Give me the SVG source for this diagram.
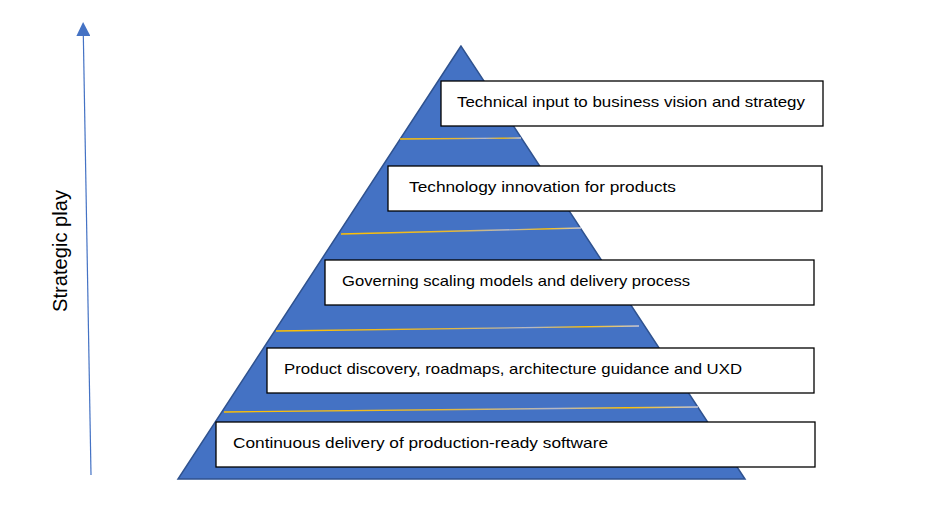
<svg xmlns="http://www.w3.org/2000/svg" width="927" height="526" viewBox="0 0 927 526">
<defs>
<style>
.box{fill:#fff;stroke:#000;stroke-width:1.3}
.lbl{font-family:"Liberation Sans",Arial,sans-serif;font-size:15px;fill:#000}
.sep{stroke:url(#gold);stroke-width:1.3;fill:none}
</style>
<linearGradient id="gold" x1="0" y1="0" x2="1" y2="0">
<stop offset="0" stop-color="#FFC000"/>
<stop offset="0.45" stop-color="#E8B830"/>
<stop offset="0.7" stop-color="#B4B8C8"/>
<stop offset="0.85" stop-color="#FFC000"/>
<stop offset="1" stop-color="#C8C8D8"/>
</linearGradient>
<marker id="ah" markerWidth="14" markerHeight="14" refX="2" refY="7" orient="auto" markerUnits="userSpaceOnUse" viewBox="0 0 14 14">
<path d="M0,0 L14,7 L0,14 Z" fill="#4472C4"/>
</marker>
</defs>
<rect width="927" height="526" fill="#fff"/>
<g id="pyramid">
<polygon points="461,46 178,479 745,479" fill="#4472C4" stroke="#2F528F" stroke-width="1.5"/>
</g>
<g id="connectors">
<line class="sep" x1="400" y1="139" x2="521" y2="138"/>
<line class="sep" x1="341" y1="234" x2="581" y2="228"/>
<line class="sep" x1="276" y1="331" x2="639" y2="326"/>
<line class="sep" x1="224" y1="412" x2="698" y2="407"/>
<line x1="91" y1="475" x2="83.3" y2="34" stroke="#4472C4" stroke-width="1.2" marker-end="url(#ah)"/>
</g>
<g id="axis-label">
<text class="lbl" style="font-size:21px" transform="translate(67,251) rotate(-90)" text-anchor="middle" textLength="122" lengthAdjust="spacingAndGlyphs">Strategic play</text>
</g>
<g id="level5">
<rect class="box" x="441" y="81" width="382" height="45"/>
<text class="lbl" x="457" y="107" textLength="348" lengthAdjust="spacingAndGlyphs">Technical input to business vision and strategy</text>
</g>
<g id="level4">
<rect class="box" x="388" y="166" width="434" height="45"/>
<text class="lbl" x="409" y="192" textLength="267" lengthAdjust="spacingAndGlyphs">Technology innovation for products</text>
</g>
<g id="level3">
<rect class="box" x="325" y="260" width="489" height="45"/>
<text class="lbl" x="342" y="286" textLength="348" lengthAdjust="spacingAndGlyphs">Governing scaling models and delivery process</text>
</g>
<g id="level2">
<rect class="box" x="267" y="348" width="547" height="45"/>
<text class="lbl" x="284" y="374" textLength="458" lengthAdjust="spacingAndGlyphs">Product discovery, roadmaps, architecture guidance and UXD</text>
</g>
<g id="level1">
<rect class="box" x="216" y="422" width="599" height="45"/>
<text class="lbl" x="233" y="448" textLength="375" lengthAdjust="spacingAndGlyphs">Continuous delivery of production-ready software</text>
</g>
</svg>
